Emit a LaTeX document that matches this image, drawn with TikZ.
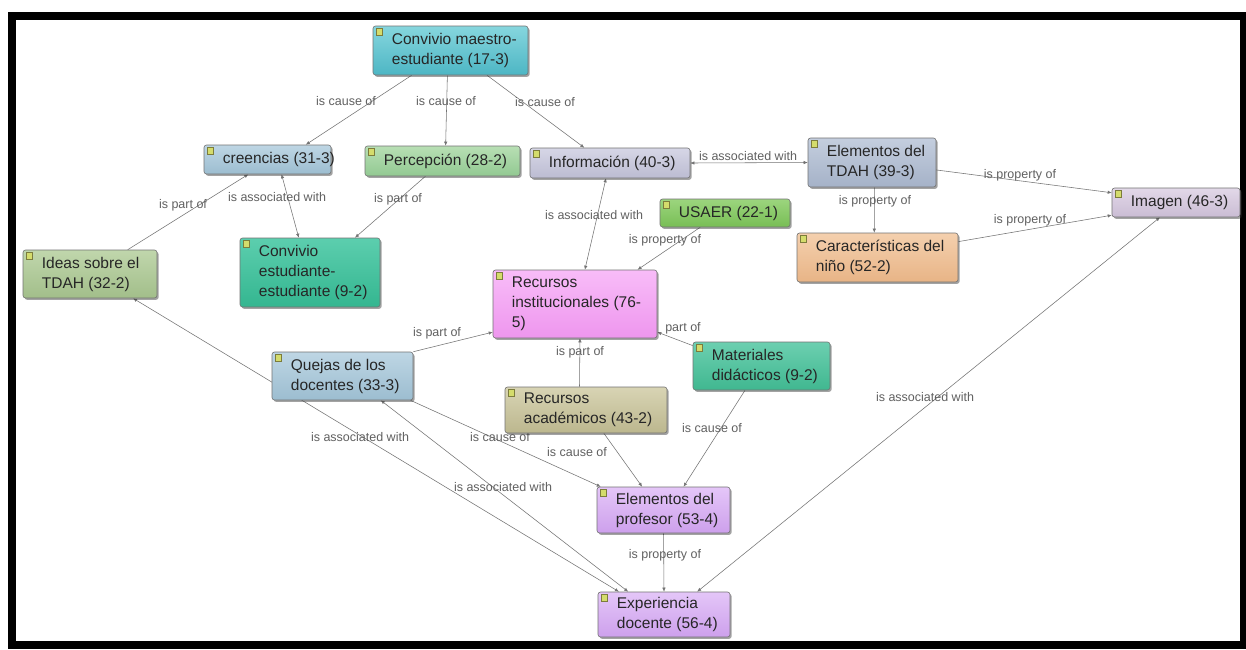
\documentclass[tikz,border=0pt]{standalone}
\usepackage{fontspec}
\setmainfont{Liberation Sans}
\usetikzlibrary{calc,arrows.meta,shadows}

\pgfdeclarelayer{bg}
\pgfdeclarelayer{edges}
\pgfsetlayers{bg,edges,main}

% concept colours (top / bottom of the gentle vertical shading)
\definecolor{cmT}{HTML}{86D6DE}\definecolor{cmB}{HTML}{4DB6C4}
\definecolor{crT}{HTML}{BED6E4}\definecolor{crB}{HTML}{9CBDD0}
\definecolor{peT}{HTML}{B8DFB4}\definecolor{peB}{HTML}{92C992}
\definecolor{inT}{HTML}{D6D6E6}\definecolor{inB}{HTML}{BCBCD2}
\definecolor{etT}{HTML}{C4CEDE}\definecolor{etB}{HTML}{A5B2C8}
\definecolor{imT}{HTML}{E2D8E8}\definecolor{imB}{HTML}{CABCD4}
\definecolor{caT}{HTML}{F4D0AE}\definecolor{caB}{HTML}{E8B486}
\definecolor{usT}{HTML}{9CD57E}\definecolor{usB}{HTML}{78BE55}
\definecolor{riT}{HTML}{F8BCF8}\definecolor{riB}{HTML}{EE96EE}
\definecolor{idT}{HTML}{C0D6AC}\definecolor{idB}{HTML}{A2BE8A}
\definecolor{ceT}{HTML}{5CCEAE}\definecolor{ceB}{HTML}{34B690}
\definecolor{quT}{HTML}{BED6E4}\definecolor{quB}{HTML}{9CBDD0}
\definecolor{maT}{HTML}{6CCFB0}\definecolor{maB}{HTML}{40B790}
\definecolor{raT}{HTML}{D8D4B4}\definecolor{raB}{HTML}{BCB78E}
\definecolor{epT}{HTML}{E4C6F8}\definecolor{epB}{HTML}{CDA0EC}
\definecolor{iconfill}{HTML}{D4DC6C}
\definecolor{iconedge}{HTML}{7C7C3C}

\tikzset{
  concept/.style={rectangle, rounded corners=2.5pt, draw=black!55, line width=0.6pt,
    inner sep=0pt,
    drop shadow={shadow xshift=1.6pt, shadow yshift=-1.8pt, opacity=0.45, fill=black!80}},
  ctext/.style={inner sep=0pt, align=left, text=black!85,
    font=\fontsize{15.5}{20}\selectfont},
  icon/.style={fill=iconfill, draw=iconedge, line width=0.5pt},
  rel/.style={draw=black!55, line width=0.55pt, -{Latex[length=4pt,width=3.4pt]}},
  assoc/.style={draw=black!55, line width=0.55pt,
    {Latex[length=4pt,width=3.4pt]}-{Latex[length=4pt,width=3.4pt]}},
  lab/.style={inner sep=0.5pt, text=black!62, font=\fontsize{12.5}{14}\selectfont},
}

% name, centre x, centre y, width, height, top colour, bottom colour, text
\newcommand\conceptbox[8]{%
  \node[concept, minimum width=#4pt, minimum height=#5pt,
        top color=#6, bottom color=#7] (#1) at (#2,#3) {};
  \node[ctext, anchor=west] (#1-t) at ([xshift=19pt]#1.west) {#8};
  \filldraw[icon] ([xshift=3.5pt,yshift=-3pt]#1.north west) rectangle ++(6.5pt,-6.5pt);
}

\begin{document}
\begin{tikzpicture}[x=1pt,y=-1pt]
\useasboundingbox (0,0) rectangle (1246,649);

% page and black frame
\begin{pgfonlayer}{bg}
  \fill[white] (0,0) rectangle (1246,649);
  \fill[black] (8,12) rectangle (1246,649);
  \fill[white] (16,20) rectangle (1240,641);
\end{pgfonlayer}

% concepts
\conceptbox{cm}{450.5}{50.5}{155}{49}{cmT}{cmB}{Convivio maestro-\\estudiante (17-3)}
\conceptbox{cr}{267.5}{159.5}{127}{29}{crT}{crB}{creencias (31-3)}
\conceptbox{pe}{442.5}{161}{155}{30}{peT}{peB}{Percepción (28-2)}
\conceptbox{in}{610}{163}{160}{30}{inT}{inB}{Información (40-3)}
\conceptbox{et}{872}{162.5}{128}{49}{etT}{etB}{Elementos del\\TDAH (39-3)}
\conceptbox{im}{1176}{202.5}{128}{29}{imT}{imB}{Imagen (46-3)}
\conceptbox{ca}{877.5}{257.5}{161}{49}{caT}{caB}{Características del\\niño (52-2)}
\conceptbox{us}{725}{213}{130}{28}{usT}{usB}{USAER (22-1)}
\conceptbox{ri}{575}{304}{164}{68}{riT}{riB}{Recursos\\institucionales (76-\\5)}
\conceptbox{id}{90}{274}{134}{48}{idT}{idB}{Ideas sobre el\\TDAH (32-2)}
\conceptbox{ce}{310}{272.5}{140}{69}{ceT}{ceB}{Convivio\\estudiante-\\estudiante (9-2)}
\conceptbox{qu}{342.5}{376}{141}{48}{quT}{quB}{Quejas de los\\docentes (33-3)}
\conceptbox{ma}{761.5}{366}{137}{48}{maT}{maB}{Materiales\\didácticos (9-2)}
\conceptbox{ra}{586}{410}{162}{46}{raT}{raB}{Recursos\\académicos (43-2)}
\conceptbox{ep}{663.5}{510}{133}{46}{epT}{epB}{Elementos del\\profesor (53-4)}
\conceptbox{ex}{664}{614.5}{132}{45}{epT}{epB}{Experiencia\\docente (56-4)}

% relations
\begin{pgfonlayer}{edges}
  \draw[rel] ($(cm.south west)!.25!(cm.south east)$) -- ($(cr.north west)!.80!(cr.north east)$);
  \draw[rel] ($(cm.south west)!.48!(cm.south east)$) -- ($(pe.north west)!.52!(pe.north east)$);
  \draw[rel] ($(cm.south west)!.735!(cm.south east)$) -- ($(in.north west)!.34!(in.north east)$);
  \draw[assoc] (in.east) -- (et.west);
  \draw[rel] ($(et.north east)!.65!(et.south east)$) -- ($(im.north west)!.17!(im.south west)$);
  \draw[rel] ($(et.south west)!.52!(et.south east)$) -- ($(ca.north west)!.48!(ca.north east)$);
  \draw[rel] ($(ca.north east)!.18!(ca.south east)$) -- ($(im.north west)!.93!(im.south west)$);
  \draw[rel] ($(id.north west)!.78!(id.north east)$) -- ($(cr.south west)!.35!(cr.south east)$);
  \draw[assoc] ($(cr.south west)!.61!(cr.south east)$) -- ($(ce.north west)!.42!(ce.north east)$);
  \draw[rel] ($(pe.south west)!.39!(pe.south east)$) -- ($(ce.north west)!.82!(ce.north east)$);
  \draw[assoc] ($(in.south west)!.475!(in.south east)$) -- ($(ri.north west)!.56!(ri.north east)$);
  \draw[rel] ($(us.south west)!.31!(us.south east)$) -- ($(ri.north west)!.88!(ri.north east)$);
  \draw[rel] (qu.north east) -- ($(ri.north west)!.91!(ri.south west)$);
  \draw[rel] ($(ma.north west)!.08!(ma.south west)$) -- ($(ri.north east)!.91!(ri.south east)$);
  \draw[rel] ($(ra.north west)!.46!(ra.north east)$) -- ($(ri.south west)!.53!(ri.south east)$);
  \draw[assoc] ($(id.south west)!.82!(id.south east)$) -- ($(ex.north west)!.16!(ex.north east)$);
  \draw[assoc] ($(qu.south west)!.77!(qu.south east)$) -- ($(ex.north west)!.23!(ex.north east)$);
  \draw[rel] ($(qu.south west)!.98!(qu.south east)$) -- ($(ep.north west)!.03!(ep.north east)$);
  \draw[rel] ($(ra.south west)!.61!(ra.south east)$) -- ($(ep.north west)!.34!(ep.north east)$);
  \draw[rel] ($(ma.south west)!.38!(ma.south east)$) -- ($(ep.north west)!.65!(ep.north east)$);
  \draw[rel] ($(ep.south west)!.5!(ep.south east)$) -- ($(ex.north west)!.5!(ex.north east)$);
  \draw[assoc] ($(im.south west)!.375!(im.south east)$) -- ($(ex.north west)!.75!(ex.north east)$);

  % relation names
  \node[lab] (l-cmcr) at (346,101) {is cause of};
  \node[lab] (l-cmpe) at (446,101) {is cause of};
  \node[lab] (l-cmin) at (545,102) {is cause of};
  \node[lab] (l-inet) at (748,156) {is associated with};
  \node[lab] (l-etim) at (1020,175) {is property of};
  \node[lab] (l-etca) at (875,201) {is property of};
  \node[lab] (l-caim) at (1030,220) {is property of};
  \node[lab] (l-idcr) at (183,205) {is part of};
  \node[lab] (l-crce) at (277,197) {is associated with};
  \node[lab] (l-pece) at (398,199) {is part of};
  \node[lab] (l-inri) at (594,215) {is associated with};
  \node[lab] (l-usri) at (665,240) {is property of};
  \node[lab] (l-quri) at (437,333) {is part of};
  \node[lab] (l-mari) at (683,328) {part of};
  \node[lab] (l-rari) at (580,352) {is part of};
  \node[lab] (l-idex) at (360,437) {is associated with};
  \node[lab] (l-quex) at (503,487) {is associated with};
  \node[lab] (l-quep) at (500,437) {is cause of};
  \node[lab] (l-raep) at (577,452) {is cause of};
  \node[lab] (l-maep) at (712,428) {is cause of};
  \node[lab] (l-epex) at (665,555) {is property of};
  \node[lab] (l-imex) at (925,397) {is associated with};
\end{pgfonlayer}
\end{tikzpicture}
\end{document}
